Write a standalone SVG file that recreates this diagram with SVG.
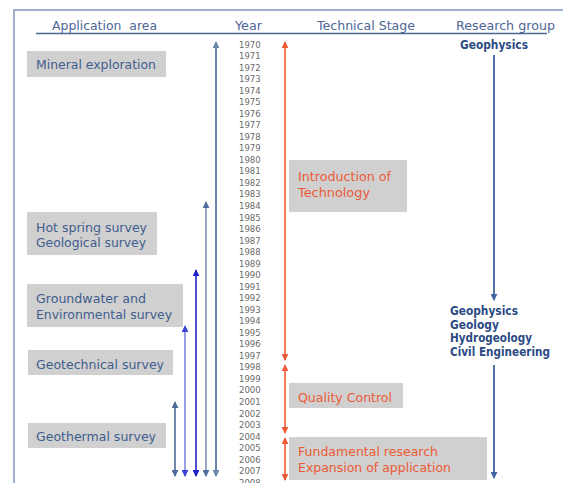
<svg xmlns="http://www.w3.org/2000/svg" width="563" height="483" viewBox="0 0 563 483">
  <style>
    text { font-family: "DejaVu Sans", Verdana, sans-serif; }
    .hdr { font-size: 13px; fill: #4d6696; }
    .box { fill: #d0d0d0; }
    .app { font-size: 13px; fill: #3f5d8e; }
    .stage { font-size: 13px; fill: #ec5a35; }
    .grp { font-size: 11.5px; font-weight: bold; fill: #2b4a84; }
    .yr { font-size: 8.5px; fill: #6a6a6a; }
    .frame { stroke: #9fb2cf; stroke-width: 2; fill: none; }
  </style>
  <defs>
    <marker id="ah-steel" viewBox="0 0 8 8" refX="7" refY="4" markerWidth="7" markerHeight="7" markerUnits="userSpaceOnUse" orient="auto-start-reverse"><path d="M0,0 L8,4 L0,8 z" fill="#4d6b98"/></marker>
    <marker id="ah-mid" viewBox="0 0 8 8" refX="7" refY="4" markerWidth="7" markerHeight="7" markerUnits="userSpaceOnUse" orient="auto-start-reverse"><path d="M0,0 L8,4 L0,8 z" fill="#6a84ae"/></marker>
    <marker id="ah-pale" viewBox="0 0 8 8" refX="7" refY="4" markerWidth="7" markerHeight="7" markerUnits="userSpaceOnUse" orient="auto-start-reverse"><path d="M0,0 L8,4 L0,8 z" fill="#4f6d9c"/></marker>
    <marker id="ah-deep" viewBox="0 0 8 8" refX="7" refY="4" markerWidth="7" markerHeight="7" markerUnits="userSpaceOnUse" orient="auto-start-reverse"><path d="M0,0 L8,4 L0,8 z" fill="#1f22c8"/></marker>
    <marker id="ah-violet" viewBox="0 0 8 8" refX="7" refY="4" markerWidth="7" markerHeight="7" markerUnits="userSpaceOnUse" orient="auto-start-reverse"><path d="M0,0 L8,4 L0,8 z" fill="#3a3fd6"/></marker>
    <marker id="ah-red" viewBox="0 0 8 8" refX="7" refY="4" markerWidth="7" markerHeight="7" markerUnits="userSpaceOnUse" orient="auto-start-reverse"><path d="M0,0 L8,4 L0,8 z" fill="#ee5a36"/></marker>
    <marker id="ah-grp" viewBox="0 0 8 8" refX="7" refY="4" markerWidth="7" markerHeight="7" markerUnits="userSpaceOnUse" orient="auto"><path d="M0,0 L8,4 L0,8 z" fill="#3f64a0"/></marker>
  </defs>

  <rect width="563" height="483" fill="#ffffff"/>

  <!-- outer frame (left and top edges) -->
  <path class="frame" d="M14,483 V10 H563"/>

  <!-- column headings -->
  <g id="header">
    <text class="hdr" x="52" y="30" textLength="105" lengthAdjust="spacingAndGlyphs" xml:space="preserve">Application  area</text>
    <text class="hdr" x="235" y="30" textLength="27" lengthAdjust="spacingAndGlyphs">Year</text>
    <text class="hdr" x="317" y="30" textLength="98" lengthAdjust="spacingAndGlyphs">Technical Stage</text>
    <text class="hdr" x="456" y="30" textLength="99" lengthAdjust="spacingAndGlyphs">Research group</text>
    <line x1="36" y1="33.5" x2="547" y2="33.5" stroke="#4a6592" stroke-width="1.5"/>
  </g>

  <!-- year scale 1970-2008 -->
  <g id="years" class="yr">
    <text x="239" y="47.5">1970</text>
    <text x="239" y="59.0">1971</text>
    <text x="239" y="70.6">1972</text>
    <text x="239" y="82.1">1973</text>
    <text x="239" y="93.6">1974</text>
    <text x="239" y="105.2">1975</text>
    <text x="239" y="116.7">1976</text>
    <text x="239" y="128.2">1977</text>
    <text x="239" y="139.7">1978</text>
    <text x="239" y="151.3">1979</text>
    <text x="239" y="162.8">1980</text>
    <text x="239" y="174.3">1981</text>
    <text x="239" y="185.9">1982</text>
    <text x="239" y="197.4">1983</text>
    <text x="239" y="208.9">1984</text>
    <text x="239" y="220.5">1985</text>
    <text x="239" y="232.0">1986</text>
    <text x="239" y="243.5">1987</text>
    <text x="239" y="255.0">1988</text>
    <text x="239" y="266.6">1989</text>
    <text x="239" y="278.1">1990</text>
    <text x="239" y="289.6">1991</text>
    <text x="239" y="301.2">1992</text>
    <text x="239" y="312.7">1993</text>
    <text x="239" y="324.2">1994</text>
    <text x="239" y="335.8">1995</text>
    <text x="239" y="347.3">1996</text>
    <text x="239" y="358.8">1997</text>
    <text x="239" y="370.3">1998</text>
    <text x="239" y="381.9">1999</text>
    <text x="239" y="393.4">2000</text>
    <text x="239" y="404.9">2001</text>
    <text x="239" y="416.5">2002</text>
    <text x="239" y="428.0">2003</text>
    <text x="239" y="439.5">2004</text>
    <text x="239" y="451.1">2005</text>
    <text x="239" y="462.6">2006</text>
    <text x="239" y="474.1">2007</text>
    <text x="239" y="485.6">2008</text>
  </g>

  <!-- application areas -->
  <g id="mineral-exploration">
    <rect class="box" x="27" y="51" width="139" height="26"/>
    <text class="app" x="36" y="69" textLength="120" lengthAdjust="spacingAndGlyphs">Mineral exploration</text>
  </g>
  <g id="hot-spring-geological-survey">
    <rect class="box" x="27" y="212" width="130" height="43"/>
    <text class="app" x="36" y="231.5" textLength="111" lengthAdjust="spacingAndGlyphs">Hot spring survey</text>
    <text class="app" x="36" y="247" textLength="110" lengthAdjust="spacingAndGlyphs">Geological survey</text>
  </g>
  <g id="groundwater-environmental-survey">
    <rect class="box" x="27" y="284" width="156" height="43"/>
    <text class="app" x="36" y="302.5" textLength="110" lengthAdjust="spacingAndGlyphs">Groundwater and</text>
    <text class="app" x="36" y="318.5" textLength="136" lengthAdjust="spacingAndGlyphs">Environmental survey</text>
  </g>
  <g id="geotechnical-survey">
    <rect class="box" x="28" y="350" width="145" height="25"/>
    <text class="app" x="36" y="368.5" textLength="128" lengthAdjust="spacingAndGlyphs">Geotechnical survey</text>
  </g>
  <g id="geothermal-survey">
    <rect class="box" x="28" y="423" width="138" height="25"/>
    <text class="app" x="36" y="441" textLength="120" lengthAdjust="spacingAndGlyphs">Geothermal survey</text>
  </g>

  <!-- technical stages -->
  <g id="introduction-of-technology">
    <rect class="box" x="289" y="160" width="118" height="52"/>
    <text class="stage" x="298" y="181" textLength="93" lengthAdjust="spacingAndGlyphs">Introduction of</text>
    <text class="stage" x="298" y="196.5" textLength="72" lengthAdjust="spacingAndGlyphs">Technology</text>
  </g>
  <g id="quality-control">
    <rect class="box" x="289" y="383" width="114" height="25"/>
    <text class="stage" x="298" y="401.5" textLength="94" lengthAdjust="spacingAndGlyphs">Quality Control</text>
  </g>
  <g id="fundamental-research">
    <rect class="box" x="289" y="437" width="198" height="43"/>
    <text class="stage" x="298" y="456" textLength="140" lengthAdjust="spacingAndGlyphs">Fundamental research</text>
    <text class="stage" x="298" y="472" textLength="153" lengthAdjust="spacingAndGlyphs">Expansion of application</text>
  </g>

  <!-- research groups -->
  <g id="group-geophysics">
    <text class="grp" x="460" y="49" textLength="68" lengthAdjust="spacingAndGlyphs">Geophysics</text>
  </g>
  <g id="group-multidisciplinary">
    <text class="grp" x="450" y="315" textLength="68" lengthAdjust="spacingAndGlyphs">Geophysics</text>
    <text class="grp" x="450" y="328.5" textLength="49" lengthAdjust="spacingAndGlyphs">Geology</text>
    <text class="grp" x="450" y="342" textLength="82" lengthAdjust="spacingAndGlyphs">Hydrogeology</text>
    <text class="grp" x="450" y="356" textLength="100" lengthAdjust="spacingAndGlyphs">Civil Engineering</text>
  </g>

  <!-- connectors -->
  <g id="connectors" fill="none">
    <!-- application periods -->
    <line x1="216" y1="42" x2="216" y2="476" stroke="#6a84ae" stroke-width="2" marker-start="url(#ah-mid)" marker-end="url(#ah-mid)"/>
    <line x1="206" y1="202" x2="206" y2="476" stroke="#98a8c6" stroke-width="2" marker-start="url(#ah-pale)" marker-end="url(#ah-pale)"/>
    <line x1="196" y1="270" x2="196" y2="476" stroke="#1f22c8" stroke-width="1.6" marker-start="url(#ah-deep)" marker-end="url(#ah-deep)"/>
    <line x1="185" y1="326" x2="185" y2="476" stroke="#8084e2" stroke-width="1.6" marker-start="url(#ah-violet)" marker-end="url(#ah-violet)"/>
    <line x1="175" y1="402" x2="175" y2="476" stroke="#4d6b98" stroke-width="1.6" marker-start="url(#ah-steel)" marker-end="url(#ah-steel)"/>
    <!-- technical stage periods -->
    <line x1="285" y1="42" x2="285" y2="360" stroke="#ee5a36" stroke-width="1.6" marker-start="url(#ah-red)" marker-end="url(#ah-red)"/>
    <line x1="285" y1="365" x2="285" y2="433" stroke="#ee5a36" stroke-width="1.6" marker-start="url(#ah-red)" marker-end="url(#ah-red)"/>
    <line x1="285" y1="438" x2="285" y2="480" stroke="#ee5a36" stroke-width="1.6" marker-start="url(#ah-red)" marker-end="url(#ah-red)"/>
    <!-- research group transitions -->
    <line x1="494" y1="55" x2="494" y2="300" stroke="#4f73a8" stroke-width="2" marker-end="url(#ah-grp)"/>
    <line x1="494" y1="365" x2="494" y2="478" stroke="#4f73a8" stroke-width="2" marker-end="url(#ah-grp)"/>
  </g>
</svg>
